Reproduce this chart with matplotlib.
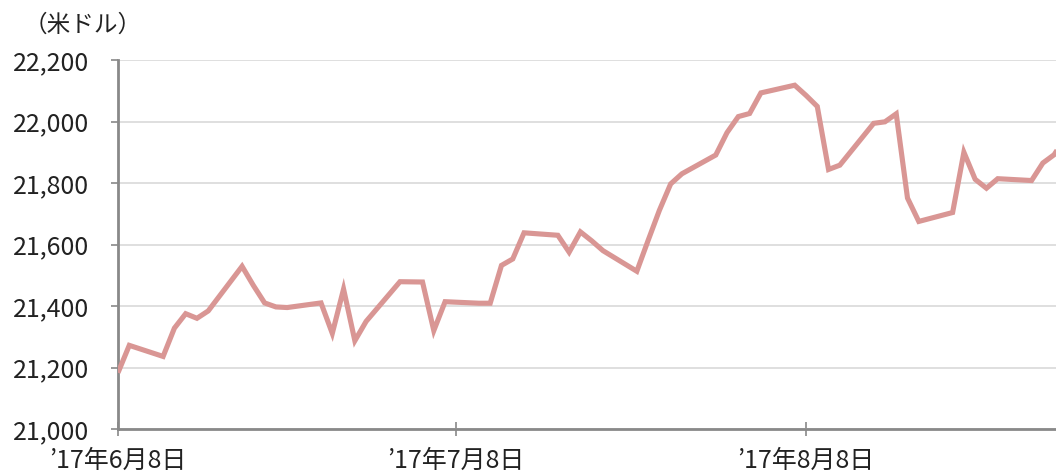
import matplotlib
matplotlib.use("Agg")
import matplotlib.pyplot as plt
import matplotlib.dates as mdates
import numpy as np
import datetime as dt

plt.rcParams['font.family'] = ['Noto Sans CJK JP', 'DejaVu Sans']

dates = ["2017-06-08", "2017-06-09", "2017-06-12", "2017-06-13", "2017-06-14", "2017-06-15",
         "2017-06-16", "2017-06-19", "2017-06-20", "2017-06-21", "2017-06-22", "2017-06-23",
         "2017-06-26", "2017-06-27", "2017-06-28", "2017-06-29", "2017-06-30", "2017-07-03",
         "2017-07-05", "2017-07-06", "2017-07-07", "2017-07-10", "2017-07-11", "2017-07-12",
         "2017-07-13", "2017-07-14", "2017-07-17", "2017-07-18", "2017-07-19", "2017-07-20",
         "2017-07-21", "2017-07-24", "2017-07-25", "2017-07-26", "2017-07-27", "2017-07-28",
         "2017-07-31", "2017-08-01", "2017-08-02", "2017-08-03", "2017-08-04", "2017-08-07",
         "2017-08-08", "2017-08-09", "2017-08-10", "2017-08-11", "2017-08-14", "2017-08-15",
         "2017-08-16", "2017-08-17", "2017-08-18", "2017-08-21", "2017-08-22", "2017-08-23",
         "2017-08-24", "2017-08-25", "2017-08-28", "2017-08-29", "2017-08-30", "2017-08-31"]
values = [21183, 21272, 21236, 21328, 21375, 21360,
          21384, 21529, 21467, 21410, 21397, 21395,
          21410, 21311, 21455, 21287, 21350, 21479,
          21478, 21320, 21414, 21409, 21409, 21532,
          21553, 21638, 21630, 21575, 21641, 21612,
          21580, 21513, 21613, 21711, 21797, 21830,
          21891, 21964, 22016, 22026, 22093, 22118,
          22085, 22049, 21844, 21858, 21994, 21999,
          22025, 21751, 21675, 21704, 21900, 21812,
          21783, 21814, 21808, 21865, 21892, 21948]
xtick_dates = ["2017-06-08", "2017-07-08", "2017-08-08"]
xtick_labels = ["’17年6月8日", "’17年7月8日", "’17年8月8日"]
yticks = [21000, 21200, 21400, 21600, 21800, 22000, 22200]

x = [dt.datetime.strptime(d, "%Y-%m-%d") for d in dates]
xt = [dt.datetime.strptime(d, "%Y-%m-%d") for d in xtick_dates]

fig = plt.figure(figsize=(10.56, 4.74), dpi=100)
ax = fig.add_axes([118/1056, 45/474, 1 - 118/1056, (429-60)/474])

ax.plot(x, values, color='#d99694', lw=3.7, solid_joinstyle='miter', solid_capstyle='butt', zorder=3)

ax.set_xlim(dt.datetime(2017, 6, 8), dt.datetime(2017, 8, 30, 4))
ax.set_ylim(21000, 22200)
ax.set_yticks(yticks)
ax.set_yticklabels([f"{v:,}" for v in yticks])
ax.set_xticks(xt)
ax.set_xticklabels(xtick_labels)

ax.grid(axis='y', color='#d9d9d9', lw=1.2, zorder=0)
ax.set_axisbelow(True)
for s in ['top', 'right']:
    ax.spines[s].set_visible(False)
for s in ['left', 'bottom']:
    ax.spines[s].set_color('#898989')
    ax.spines[s].set_linewidth(2)
    ax.spines[s].set_zorder(2)

ax.tick_params(axis='y', direction='out', length=5, width=1.2, color='#898989',
               labelsize=18, labelcolor='#222222', pad=16)
ax.tick_params(axis='x', direction='inout', length=10, width=1.2, color='#898989',
               labelsize=18, labelcolor='#222222', pad=8.5)

fig.text(24/1056, 1 - 25/474, "（米ドル）", fontsize=17, color='#222222', va='center', ha='left')

fig.savefig("out.png", dpi=100)
